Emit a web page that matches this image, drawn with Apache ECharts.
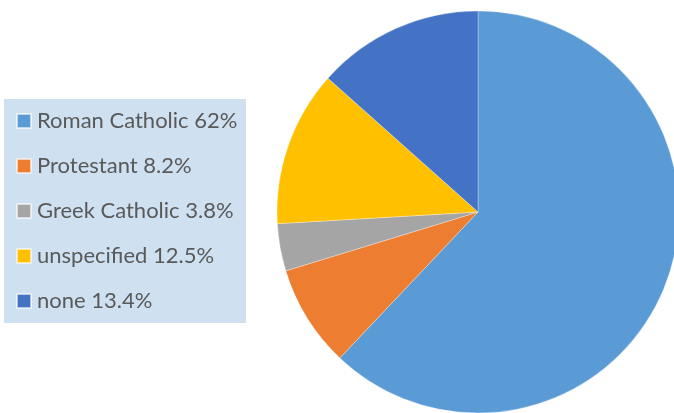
<!DOCTYPE html>
<html><head><meta charset="utf-8">
<script src="https://cdn.jsdelivr.net/npm/echarts@6/dist/echarts.min.js"></script>
<style>html,body{margin:0;padding:0;background:#fff}#c{width:674px;height:413px}</style>
</head><body><div id="c"></div>
<script>
var categories = ['Roman Catholic', 'Protestant', 'Greek Catholic', 'unspecified', 'none'];
var values = [62, 8.2, 3.8, 12.5, 13.4];
var colors = ['#5b9bd5', '#ed7d31', '#a5a5a5', '#ffc000', '#4472c4'];

var data = categories.map(function (c, i) { return { name: c, value: values[i] }; });
var chart = echarts.init(document.getElementById('c'), null, { renderer: 'canvas' });
chart.setOption({
  animation: false,
  color: colors,
  graphic: [{
    type: 'rect', left: 4, top: 99, z: -1,
    shape: { width: 242, height: 224 },
    style: { fill: '#cfe0f1' }
  }],
  legend: {
    orient: 'vertical', left: 16, top: 110,
    itemWidth: 14, itemHeight: 14, itemGap: 23,
    icon: 'rect',
    padding: 0,
    textStyle: { fontFamily: 'Lato', fontSize: 22, color: '#595959', lineHeight: 22, padding: [0, 0, 0, 1] },
    formatter: function (name) {
      var i = categories.indexOf(name);
      return name + ' ' + values[i] + '%';
    },
    data: categories
  },
  series: [{
    type: 'pie',
    center: [478, 212],
    radius: 201,
    startAngle: 90,
    clockwise: true,
    label: { show: false },
    labelLine: { show: false },
    itemStyle: { borderColor: 'rgba(255,255,255,0.6)', borderWidth: 0.5 },
    emphasis: { disabled: true },
    data: data
  }]
});
</script></body></html>
